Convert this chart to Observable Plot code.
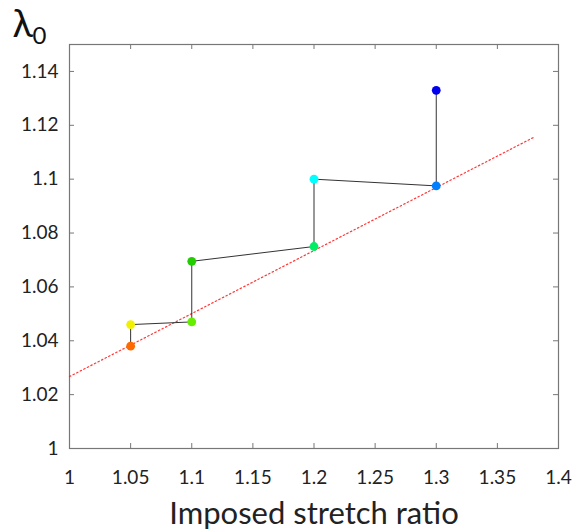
<!DOCTYPE html>
<html><head><meta charset="utf-8">
<script src="https://cdn.jsdelivr.net/npm/d3@7"></script>
<script src="https://cdn.jsdelivr.net/npm/@observablehq/plot@0.6"></script>
<style>body{margin:0;background:#fff;font-family:Lato,sans-serif}</style>
</head><body><div id="chart"></div>
<script>
const stretch = [1.05, 1.05, 1.1, 1.1, 1.2, 1.2, 1.3, 1.3];
const lambda0 = [1.038, 1.046, 1.047, 1.0695, 1.075, 1.1, 1.0975, 1.133];
const pointColors = ["#ff6a00", "#f0f000", "#66ee00", "#22cc00", "#00ee66", "#00ffff", "#0080ff", "#0000ee"];
const fitX = [1, 1.38];
const fitY = [1.0267, 1.1156];
const xTicks = [1, 1.05, 1.1, 1.15, 1.2, 1.25, 1.3, 1.35, 1.4];
const xTickLabels = ["1", "1.05", "1.1", "1.15", "1.2", "1.25", "1.3", "1.35", "1.4"];
const yTicks = [1, 1.02, 1.04, 1.06, 1.08, 1.1, 1.12, 1.14];
const yTickLabels = ["1", "1.02", "1.04", "1.06", "1.08", "1.1", "1.12", "1.14"];

const pts = stretch.map((x, i) => ({x, y: lambda0[i], c: pointColors[i]}));
const fit = fitX.map((x, i) => ({x, y: fitY[i]}));

const W = 575, H = 532, mt = 44, mb = 84, ml = 69, mr = 17;
const ph = H - mt - mb, pw = W - ml - mr;
const tl = 5;

const chart = Plot.plot({
  width: W, height: H,
  marginTop: mt, marginBottom: mb, marginLeft: ml, marginRight: mr,
  style: {fontFamily: "Lato, sans-serif", background: "#fff"},
  x: {domain: [1, 1.4]},
  y: {domain: [1, 1.15]},
  marks: [
    Plot.ruleX(xTicks.slice(1, -1), {x: d => d, insetTop: ph - tl, stroke: "#777"}),
    Plot.ruleX(xTicks.slice(1, -1), {x: d => d, insetBottom: ph - tl, stroke: "#777"}),
    Plot.ruleY(yTicks.slice(1), {y: d => d, insetRight: pw - tl, stroke: "#777"}),
    Plot.ruleY(yTicks.slice(1), {y: d => d, insetLeft: pw - tl, stroke: "#777"}),
    Plot.frame({stroke: "#777", strokeWidth: 1.2}),
    Plot.axisX({ticks: xTicks, tickFormat: (d, i) => xTickLabels[i], tickSize: 0, tickPadding: 22, fontSize: 19, fill: "#222", label: null}),
    Plot.axisY({ticks: yTicks, tickFormat: (d, i) => yTickLabels[i], tickSize: 0, tickPadding: 11, fontSize: 19, fill: "#222", label: null}),
    Plot.line(fit, {x: "x", y: "y", stroke: "#ff2020", strokeWidth: 1.2, strokeDasharray: "1.5,2.5", strokeOpacity: 0.9}),
    Plot.line(pts, {x: "x", y: "y", stroke: "#333", strokeWidth: 1}),
    Plot.dot(pts, {x: "x", y: "y", r: 4.4, fill: "c", stroke: "none"}),
    Plot.text(["Imposed stretch ratio"], {frameAnchor: "bottom", dy: 66, fontSize: 31, fill: "#222", lineAnchor: "middle"}),
    Plot.text(["λ"], {frameAnchor: "top-left", dx: -57, dy: -20, fontSize: 38, fill: "#111", textAnchor: "start", lineAnchor: "middle"}),
    Plot.text(["0"], {frameAnchor: "top-left", dx: -37, dy: -8, fontSize: 24, fill: "#111", textAnchor: "start", lineAnchor: "middle"})
  ]
});
document.getElementById("chart").appendChild(chart);
</script>
</body></html>
